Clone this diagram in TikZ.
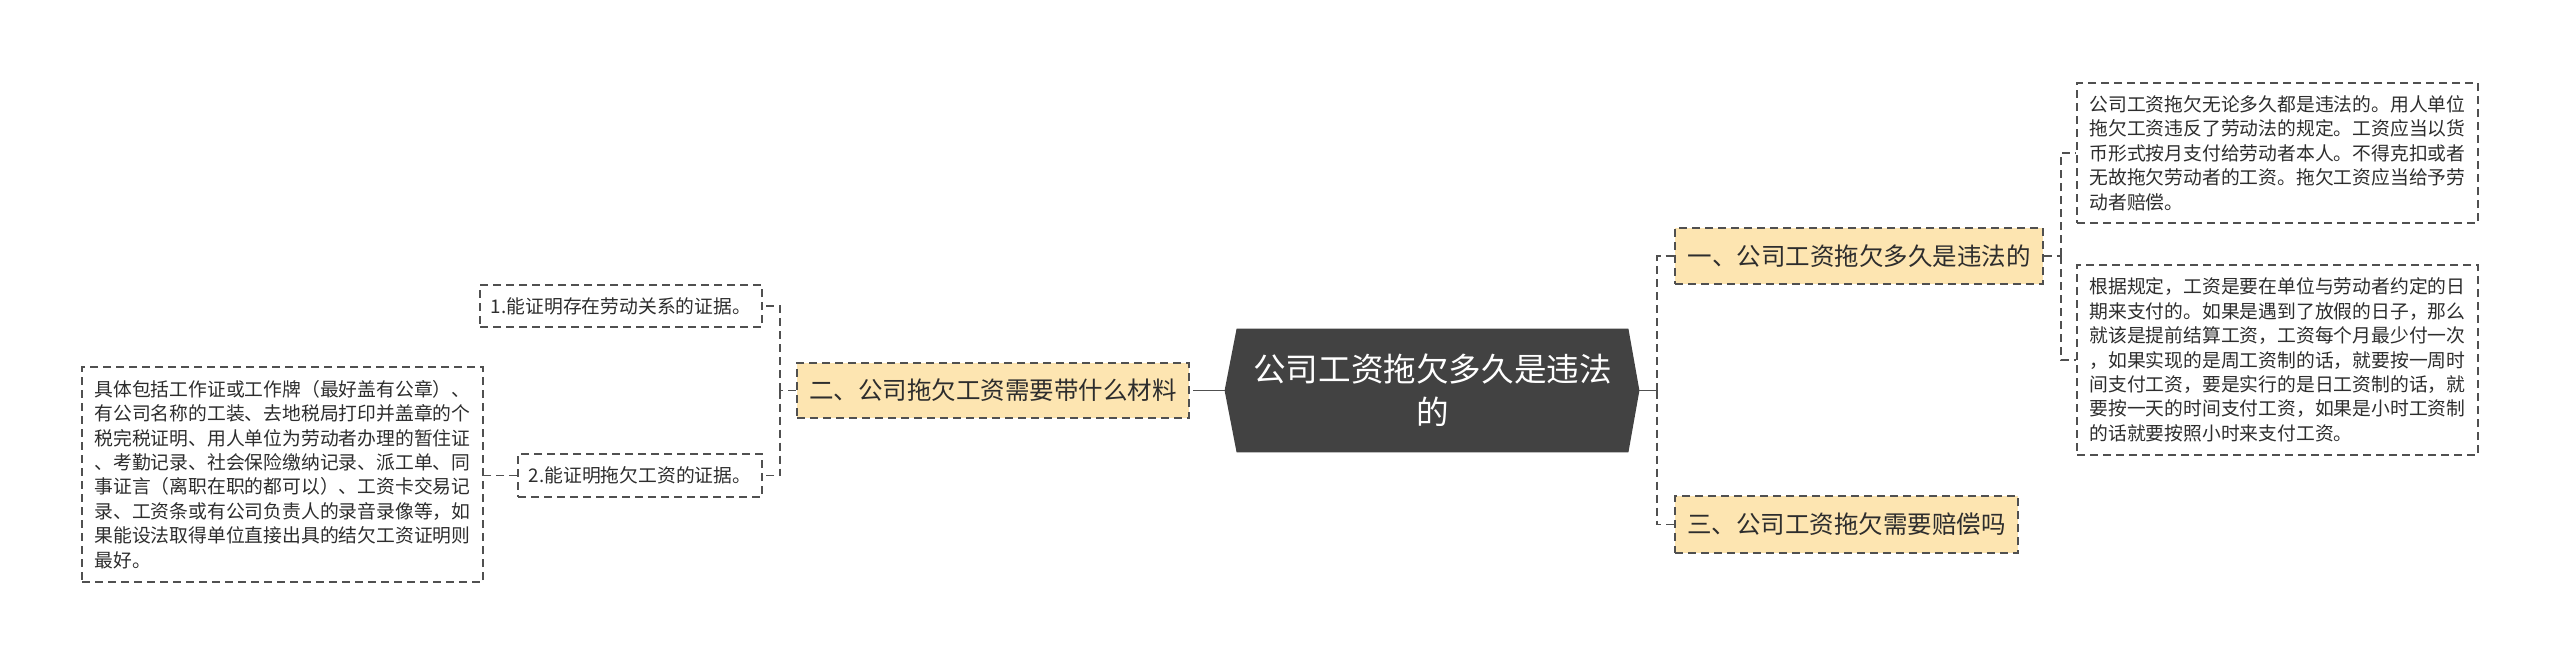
\documentclass[tikz,border=0pt]{standalone}
\usepackage{fontspec}
\setmainfont{Noto Sans CJK SC}
\usetikzlibrary{backgrounds}
\definecolor{rootgray}{RGB}{66,66,66}
\definecolor{branchfill}{RGB}{253,229,177}
\definecolor{linegray}{RGB}{80,80,80}
\definecolor{textgray}{RGB}{45,45,45}

\begin{document}
\begin{tikzpicture}[x=0.5pt, y=-0.5pt,
    rootnode/.style={minimum width=195.5pt, minimum height=61.5pt, inner sep=0pt,
      text=white, align=center, font=\fontsize{16.3pt}{21.5pt}\selectfont},
    boxline/.style={draw=linegray, line width=0.9pt, dash pattern=on 4pt off 2.5pt},
    branchnode/.style={boxline, fill=branchfill, inner sep=0pt, text=textgray,
      font=\fontsize{12.25pt}{15pt}\selectfont},
    leafnode/.style={boxline, inner sep=0pt, text=textgray, align=left,
      font=\fontsize{9.4pt}{12.2pt}\selectfont},
    link/.style={draw=linegray, line width=0.9pt, dash pattern=on 4pt off 2.5pt}]
    \useasboundingbox (0,0) rectangle (2560,665);

    % Root
    \node[rootnode] (root) at (1432.5,390.5) {公司工资拖欠多久是违法\\的};
    \coordinate (tipl) at ([xshift=-6pt]root.west);
    \coordinate (tipr) at ([xshift=5.5pt]root.east);
    \begin{scope}[on background layer]
      \fill[rootgray] (root.north west) -- (root.north east) -- (tipr)
        -- (root.south east) -- (root.south west) -- (tipl) -- cycle;
    \end{scope}

    % Branches
    \node[branchnode, minimum width=184pt, minimum height=28pt] (one) at (1859,256) {一、公司工资拖欠多久是违法的};
    \node[branchnode, minimum width=196pt, minimum height=27.5pt] (two) at (993,390.5) {二、公司拖欠工资需要带什么材料};
    \node[branchnode, minimum width=171.5pt, minimum height=28.5pt] (three) at (1846.5,524.5) {三、公司工资拖欠需要赔偿吗};

    % Leaves of one
    \node[leafnode, minimum width=200.5pt, minimum height=70pt] (lawful) at (2277.5,153) {公司工资拖欠无论多久都是违法的。用人单位\\
      拖欠工资违反了劳动法的规定。工资应当以货\\
      币形式按月支付给劳动者本人。不得克扣或者\\
      无故拖欠劳动者的工资。拖欠工资应当给予劳\\
      动者赔偿。};
    \node[leafnode, minimum width=200.5pt, minimum height=95pt] (payday) at (2277.5,360) {根据规定，工资是要在单位与劳动者约定的日\\
      期来支付的。如果是遇到了放假的日子，那么\\
      就该是提前结算工资，工资每个月最少付一次\\
      ，如果实现的是周工资制的话，就要按一周时\\
      间支付工资，要是实行的是日工资制的话，就\\
      要按一天的时间支付工资，如果是小时工资制\\
      的话就要按照小时来支付工资。};

    % Leaves of two
    \node[leafnode, minimum width=141pt, minimum height=21pt] (proofa) at (621,306) {1.能证明存在劳动关系的证据。};
    \node[leafnode, minimum width=122pt, minimum height=21.5pt] (proofb) at (640,475.5) {2.能证明拖欠工资的证据。};
    \node[leafnode, minimum width=200.5pt, minimum height=107.5pt] (detail) at (282.5,474.5) {具体包括工作证或工作牌（最好盖有公章）、\\
      有公司名称的工装、去地税局打印并盖章的个\\
      税完税证明、用人单位为劳动者办理的暂住证\\
      、考勤记录、社会保险缴纳记录、派工单、同\\
      事证言（离职在职的都可以）、工资卡交易记\\
      录、工资条或有公司负责人的录音录像等，如\\
      果能设法取得单位直接出具的结欠工资证明则\\
      最好。};

    % Connectors
    \coordinate (jr) at (1657,390.5);
    \coordinate (jl) at (1201,390.5);
    \coordinate (jtwo) at (780,390.5);
    \coordinate (jone) at (2061,256);
    \draw[linegray, line width=0.9pt] (tipr) -- (jr);
    \draw[linegray, line width=0.9pt] (tipl) -- (jl);
    \draw[link] (jr) |- (one.west);
    \draw[link] (jr) |- (three.west);
    \draw[link] (jl) -- (two.east);
    \draw[link] (two.west) -- (jtwo);
    \draw[link] (jtwo) |- (proofa.east);
    \draw[link] (jtwo) |- (proofb.east);
    \draw[link] (proofb.west) -- (detail.east |- proofb.west);
    \draw[link] (one.east) -- (jone);
    \draw[link] (jone) |- (lawful.west);
    \draw[link] (jone) |- (payday.west);
  \end{tikzpicture}
\end{document}
